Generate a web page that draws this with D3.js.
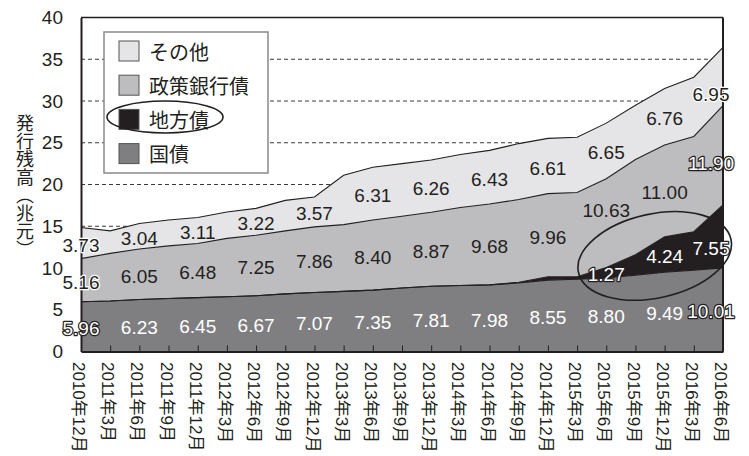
<!DOCTYPE html>
<html>
<head>
<meta charset="utf-8">
<script src="https://cdn.jsdelivr.net/npm/d3@7"></script>
<style>
  body { margin: 0; background: #fff; }
  svg { display: block; }
</style>
</head>
<body>
<svg></svg>
<script>
const width = 749;
const height = 456;

// quarters, 2010年12月 .. 2016年6月
const months = ["2010年12月", "2011年3月", "2011年6月", "2011年9月", "2011年12月",
  "2012年3月", "2012年6月", "2012年9月", "2012年12月", "2013年3月", "2013年6月",
  "2013年9月", "2013年12月", "2014年3月", "2014年6月", "2014年9月", "2014年12月",
  "2015年3月", "2015年6月", "2015年9月", "2015年12月", "2016年3月", "2016年6月"];

// 兆元
const kokusai = [5.96, 6.05, 6.23, 6.35, 6.45, 6.55, 6.67, 6.90, 7.07, 7.20, 7.35, 7.60,
  7.81, 7.90, 7.98, 8.20, 8.55, 8.65, 8.80, 9.15, 9.49, 9.75, 10.01];
const chihou = [0, 0, 0, 0, 0, 0, 0, 0, 0, 0, 0, 0,
  0, 0, 0, 0.10, 0.40, 0.30, 1.27, 2.45, 4.24, 4.60, 7.55];
const seisaku = [5.16, 5.70, 6.05, 6.30, 6.48, 7.00, 7.25, 7.55, 7.86, 8.00, 8.40, 8.60,
  8.87, 9.35, 9.68, 9.90, 9.96, 10.10, 10.63, 11.40, 11.00, 11.40, 11.90];
const sonota = [3.73, 2.70, 3.04, 3.10, 3.11, 3.15, 3.22, 3.65, 3.57, 5.90, 6.31, 6.30,
  6.26, 6.35, 6.43, 6.70, 6.61, 6.60, 6.65, 6.50, 6.76, 7.10, 6.95];

// which points carry a value label
const labelIdx = [0, 2, 4, 6, 8, 10, 12, 14, 16, 18, 20, 22];
const chihouLabelIdx = [18, 20, 22];

const yTicks = [0, 5, 10, 15, 20, 25, 30, 35, 40];

const keys = ["国債", "地方債", "政策銀行債", "その他"];
const colors = {"国債": "#7f7f82", "地方債": "#231f20", "政策銀行債": "#bdbdc0", "その他": "#e5e5e7"};
const ink = "#231f20";
const latin = "'Liberation Sans', Arial, 'Noto Sans CJK JP', sans-serif";
const cjk = "'Noto Sans CJK JP', 'Noto Sans CJK SC', sans-serif";

const table = months.map((m, i) => ({
  i: i, "国債": kokusai[i], "地方債": chihou[i], "政策銀行債": seisaku[i], "その他": sonota[i]
}));

let svg = d3.select("svg").attr("width", width).attr("height", height);

let x = d3.scaleLinear().domain([0, months.length - 1]).range([81, 723]);
let y = d3.scaleLinear().domain([0, 40]).range([351.5, 17.5]);

let series = d3.stack().keys(keys)(table);

// dashed grid
svg.append("g")
  .selectAll("line")
  .data(yTicks.filter(t => t > 0 && t < 40))
  .join("line")
  .attr("x1", x(0)).attr("x2", x(22))
  .attr("y1", d => y(d)).attr("y2", d => y(d))
  .style("stroke", "#3a3a3a")
  .style("stroke-width", 1)
  .style("stroke-dasharray", "4,3");

let area = d3.area()
  .x(d => x(d.data.i))
  .y0(d => y(d[0]))
  .y1(d => y(d[1]));

let topLine = d3.line()
  .x(d => x(d.data.i))
  .y(d => y(d[1]));

svg.append("g")
  .selectAll("path")
  .data(series)
  .join("path")
  .attr("d", area)
  .style("fill", d => colors[d.key]);

svg.append("g")
  .selectAll("path")
  .data(series)
  .join("path")
  .attr("d", topLine)
  .style("fill", "none")
  .style("stroke", ink)
  .style("stroke-width", 1.1);

// frame
svg.append("line")
  .attr("x1", x(0)).attr("x2", x(22)).attr("y1", y(40)).attr("y2", y(40))
  .style("stroke", ink).style("stroke-width", 1.5);
svg.append("line")
  .attr("x1", x(22)).attr("x2", x(22)).attr("y1", y(40)).attr("y2", y(0))
  .style("stroke", ink).style("stroke-width", 2);

// y axis
let yAxis = svg.append("g")
  .attr("transform", "translate(" + x(0) + ",0)")
  .call(d3.axisLeft(y).tickValues(yTicks).tickSize(0).tickPadding(18));
yAxis.select(".domain").style("stroke", ink).style("stroke-width", 2);
yAxis.selectAll("text")
  .style("font-family", latin)
  .style("font-size", "19px")
  .style("fill", ink);

// x axis, ticks pointing up
let xAxis = svg.append("g")
  .attr("transform", "translate(0," + y(0) + ")")
  .call(d3.axisBottom(x).ticks(22).tickValues(d3.range(months.length))
    .tickSizeInner(-6).tickSizeOuter(0).tickFormat(""));
xAxis.select(".domain").style("stroke", ink).style("stroke-width", 2);
xAxis.selectAll("line").style("stroke", ink).style("stroke-width", 1);

svg.append("g")
  .selectAll("text")
  .data(months)
  .join("text")
  .attr("transform", (d, i) => "translate(" + (x(i) - 2) + ",362) rotate(90)")
  .attr("dy", "0.35em")
  .style("font-family", latin)
  .style("font-size", "17px")
  .style("fill", ink)
  .text(d => d);

// y title, vertical
svg.append("text")
  .attr("x", 25)
  .attr("y", 114)
  .style("writing-mode", "vertical-rl")
  .style("font-family", cjk)
  .style("font-size", "18px")
  .style("fill", ink)
  .text("発行残高（兆元）");

// value labels
const nudge = {"その他-22": 16, "政策銀行債-18": -15, "地方債-22": 10, "政策銀行債-22": 6};
let labels = [];
series.forEach(s => {
  let idx = s.key === "地方債" ? chihouLabelIdx : labelIdx;
  idx.forEach(i => {
    let d = s[i];
    labels.push({key: s.key, i: i, v: d.data[s.key], mid: (d[0] + d[1]) / 2});
  });
});

svg.append("g")
  .selectAll("text")
  .data(labels)
  .join("text")
  .attr("x", d => x(d.i) - (d.i === 22 ? 12 : 0))
  .attr("y", d => y(d.mid) + 2 + (nudge[d.key + "-" + d.i] || 0))
  .attr("text-anchor", "middle")
  .attr("dominant-baseline", "central")
  .style("font-family", latin)
  .style("font-size", "19px")
  .style("paint-order", "stroke")
  .style("stroke-linejoin", "round")
  .each(function (d) {
    let white = d.key === "国債" || d.key === "地方債" || (d.key === "政策銀行債" && d.i === 22);
    let halo = d.i === 0 || d.i === 22 || (d.key === "地方債" && d.i === 18);
    d3.select(this)
      .style("fill", white ? "#fff" : ink)
      .style("stroke", halo ? (white ? ink : "#fff") : "none")
      .style("stroke-width", halo ? 2.5 : 0);
  })
  .text(d => d.v.toFixed(2));

// highlight ring around 地方債
svg.append("ellipse")
  .attr("transform", "translate(" + x(19.66) + "," + y(11.45) + ") rotate(-12.3)")
  .attr("rx", 78)
  .attr("ry", 42)
  .style("fill", "none")
  .style("stroke", ink)
  .style("stroke-width", 1.6);

// legend
let legend = svg.append("g");
legend.append("rect")
  .attr("x", 104).attr("y", 32).attr("width", 164).attr("height", 141)
  .style("fill", "#fff")
  .style("stroke", "#8a8a8a")
  .style("stroke-width", 1.5);

let items = legend.selectAll("g.item")
  .data(keys.slice().reverse())
  .join("g")
  .attr("class", "item")
  .attr("transform", (d, i) => "translate(119," + (41 + i * 34.2) + ")");

items.append("rect")
  .attr("width", 20).attr("height", 20)
  .style("fill", d => colors[d])
  .style("stroke", "#555")
  .style("stroke-width", 1);

items.append("text")
  .attr("x", 30)
  .attr("y", 10)
  .attr("dominant-baseline", "central")
  .style("font-family", cjk)
  .style("font-size", "20px")
  .style("fill", ink)
  .text(d => d);

legend.append("ellipse")
  .attr("cx", 165).attr("cy", 117)
  .attr("rx", 58).attr("ry", 16)
  .style("fill", "none")
  .style("stroke", ink)
  .style("stroke-width", 1.6);
</script>
</body>
</html>
